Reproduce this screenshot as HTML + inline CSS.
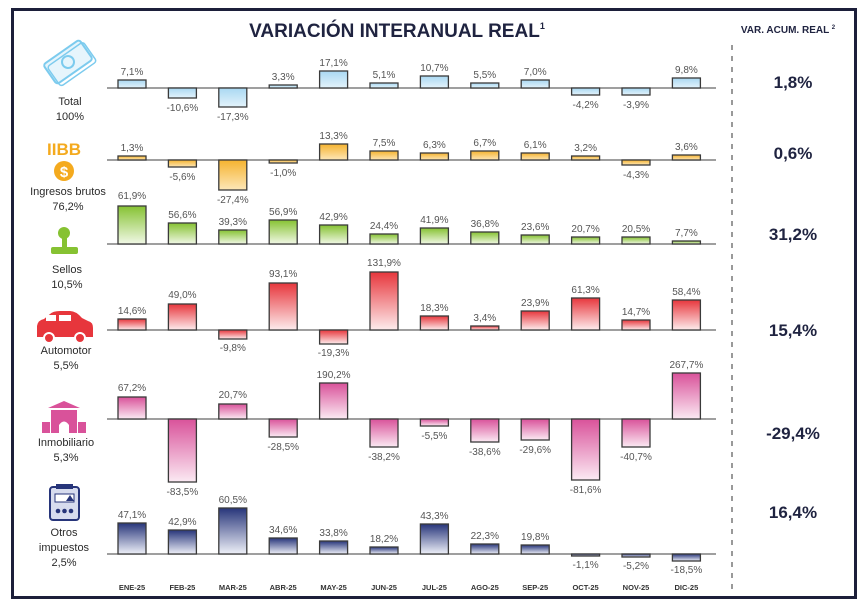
<!DOCTYPE html>
<html><head><meta charset="utf-8"><style>
body{margin:0;background:#fff;}
svg{display:block;font-family:"Liberation Sans",sans-serif;}
.l{font-size:10px;fill:#555;text-anchor:middle;}
.m{font-size:7.5px;font-weight:bold;fill:#333;text-anchor:middle;}
.n{font-size:11px;fill:#2a2a2a;text-anchor:middle;}
.v{font-size:17px;font-weight:bold;fill:#1f2340;text-anchor:middle;}
rect.b{stroke:#3a3a3a;stroke-width:1.3;}
</style></head><body>
<svg width="862" height="611" viewBox="0 0 862 611">
<defs>
<linearGradient id="g0" x1="0" y1="0" x2="0" y2="1"><stop offset="0" stop-color="#a9d8f2"/><stop offset="1" stop-color="#e4f3fb"/></linearGradient>
<linearGradient id="g1" x1="0" y1="0" x2="0" y2="1"><stop offset="0" stop-color="#f5b32f"/><stop offset="1" stop-color="#fde7b8"/></linearGradient>
<linearGradient id="g2" x1="0" y1="0" x2="0" y2="1"><stop offset="0" stop-color="#86c232"/><stop offset="1" stop-color="#f1f8e6"/></linearGradient>
<linearGradient id="g3" x1="0" y1="0" x2="0" y2="1"><stop offset="0" stop-color="#e7363c"/><stop offset="1" stop-color="#fdeced"/></linearGradient>
<linearGradient id="g4" x1="0" y1="0" x2="0" y2="1"><stop offset="0" stop-color="#d9529a"/><stop offset="1" stop-color="#fbeaf3"/></linearGradient>
<linearGradient id="g5" x1="0" y1="0" x2="0" y2="1"><stop offset="0" stop-color="#27357a"/><stop offset="1" stop-color="#eef0f8"/></linearGradient>
</defs>
<rect x="12.5" y="9.5" width="843" height="588" fill="#fff" stroke="#1c1f3a" stroke-width="3"/>
<text x="397" y="37" font-size="19" font-weight="bold" fill="#1f2340" text-anchor="middle">VARIACIÓN INTERANUAL REAL<tspan font-size="9" dy="-8">1</tspan></text>
<text x="788" y="33" font-size="10" font-weight="bold" fill="#1f2340" text-anchor="middle">VAR. ACUM. REAL <tspan font-size="6" dy="-4">2</tspan></text>
<line x1="732" y1="45" x2="732" y2="592" stroke="#333" stroke-width="1" stroke-dasharray="5,6"/>
<g stroke="#666" stroke-width="1.2">
<line x1="107" y1="88" x2="716" y2="88"/><line x1="107" y1="160" x2="716" y2="160"/><line x1="107" y1="244" x2="716" y2="244"/>
<line x1="107" y1="330" x2="716" y2="330"/><line x1="107" y1="419" x2="716" y2="419"/><line x1="107" y1="554" x2="716" y2="554"/>
</g>
<text class="v" x="793" y="88">1,8%</text>
<text class="v" x="793" y="159">0,6%</text>
<text class="v" x="793" y="240">31,2%</text>
<text class="v" x="793" y="336">15,4%</text>
<text class="v" x="793" y="439">-29,4%</text>
<text class="v" x="793" y="518">16,4%</text>
<!-- Total -->
<g fill="url(#g0)">
<rect class="b" x="118" y="80" width="28" height="8"/><rect class="b" x="168.4" y="88" width="28" height="10"/><rect class="b" x="218.8" y="88" width="28" height="19"/><rect class="b" x="269.2" y="85" width="28" height="3"/><rect class="b" x="319.6" y="71" width="28" height="17"/><rect class="b" x="370" y="83" width="28" height="5"/><rect class="b" x="420.4" y="76" width="28" height="12"/><rect class="b" x="470.8" y="83" width="28" height="5"/><rect class="b" x="521.2" y="80" width="28" height="8"/><rect class="b" x="571.6" y="88" width="28" height="7"/><rect class="b" x="622" y="88" width="28" height="7"/><rect class="b" x="672.4" y="78" width="28" height="10"/>
</g>
<text class="l" x="132" y="75">7,1%</text><text class="l" x="182.4" y="111">-10,6%</text><text class="l" x="232.8" y="120">-17,3%</text><text class="l" x="283.2" y="80">3,3%</text><text class="l" x="333.6" y="66">17,1%</text><text class="l" x="384" y="78">5,1%</text><text class="l" x="434.4" y="71">10,7%</text><text class="l" x="484.8" y="78">5,5%</text><text class="l" x="535.2" y="75">7,0%</text><text class="l" x="585.6" y="108">-4,2%</text><text class="l" x="636" y="108">-3,9%</text><text class="l" x="686.4" y="73">9,8%</text>
<!-- IIBB -->
<g fill="url(#g1)">
<rect class="b" x="118" y="156" width="28" height="4"/><rect class="b" x="168.4" y="160" width="28" height="7"/><rect class="b" x="218.8" y="160" width="28" height="30"/><rect class="b" x="269.2" y="160" width="28" height="3"/><rect class="b" x="319.6" y="144" width="28" height="16"/><rect class="b" x="370" y="151" width="28" height="9"/><rect class="b" x="420.4" y="153" width="28" height="7"/><rect class="b" x="470.8" y="151" width="28" height="9"/><rect class="b" x="521.2" y="153" width="28" height="7"/><rect class="b" x="571.6" y="156" width="28" height="4"/><rect class="b" x="622" y="160" width="28" height="5"/><rect class="b" x="672.4" y="155" width="28" height="5"/>
</g>
<text class="l" x="132" y="151">1,3%</text><text class="l" x="182.4" y="180">-5,6%</text><text class="l" x="232.8" y="203">-27,4%</text><text class="l" x="283.2" y="176">-1,0%</text><text class="l" x="333.6" y="139">13,3%</text><text class="l" x="384" y="146">7,5%</text><text class="l" x="434.4" y="148">6,3%</text><text class="l" x="484.8" y="146">6,7%</text><text class="l" x="535.2" y="148">6,1%</text><text class="l" x="585.6" y="151">3,2%</text><text class="l" x="636" y="178">-4,3%</text><text class="l" x="686.4" y="150">3,6%</text>
<!-- Sellos -->
<g fill="url(#g2)">
<rect class="b" x="118" y="206" width="28" height="38"/><rect class="b" x="168.4" y="223" width="28" height="21"/><rect class="b" x="218.8" y="230" width="28" height="14"/><rect class="b" x="269.2" y="220" width="28" height="24"/><rect class="b" x="319.6" y="225" width="28" height="19"/><rect class="b" x="370" y="234" width="28" height="10"/><rect class="b" x="420.4" y="228" width="28" height="16"/><rect class="b" x="470.8" y="232" width="28" height="12"/><rect class="b" x="521.2" y="235" width="28" height="9"/><rect class="b" x="571.6" y="237" width="28" height="7"/><rect class="b" x="622" y="237" width="28" height="7"/><rect class="b" x="672.4" y="241" width="28" height="3"/>
</g>
<text class="l" x="132" y="199">61,9%</text><text class="l" x="182.4" y="218">56,6%</text><text class="l" x="232.8" y="225">39,3%</text><text class="l" x="283.2" y="215">56,9%</text><text class="l" x="333.6" y="220">42,9%</text><text class="l" x="384" y="229">24,4%</text><text class="l" x="434.4" y="223">41,9%</text><text class="l" x="484.8" y="227">36,8%</text><text class="l" x="535.2" y="230">23,6%</text><text class="l" x="585.6" y="232">20,7%</text><text class="l" x="636" y="232">20,5%</text><text class="l" x="686.4" y="236">7,7%</text>
<!-- Automotor -->
<g fill="url(#g3)">
<rect class="b" x="118" y="319" width="28" height="11"/><rect class="b" x="168.4" y="304" width="28" height="26"/><rect class="b" x="218.8" y="330" width="28" height="9"/><rect class="b" x="269.2" y="283" width="28" height="47"/><rect class="b" x="319.6" y="330" width="28" height="14"/><rect class="b" x="370" y="272" width="28" height="58"/><rect class="b" x="420.4" y="316" width="28" height="14"/><rect class="b" x="470.8" y="326" width="28" height="4"/><rect class="b" x="521.2" y="311" width="28" height="19"/><rect class="b" x="571.6" y="298" width="28" height="32"/><rect class="b" x="622" y="320" width="28" height="10"/><rect class="b" x="672.4" y="300" width="28" height="30"/>
</g>
<text class="l" x="132" y="314">14,6%</text><text class="l" x="182.4" y="298">49,0%</text><text class="l" x="232.8" y="351">-9,8%</text><text class="l" x="283.2" y="277">93,1%</text><text class="l" x="333.6" y="356">-19,3%</text><text class="l" x="384" y="266">131,9%</text><text class="l" x="434.4" y="311">18,3%</text><text class="l" x="484.8" y="321">3,4%</text><text class="l" x="535.2" y="306">23,9%</text><text class="l" x="585.6" y="293">61,3%</text><text class="l" x="636" y="315">14,7%</text><text class="l" x="686.4" y="295">58,4%</text>
<!-- Inmobiliario -->
<g fill="url(#g4)">
<rect class="b" x="118" y="397" width="28" height="22"/><rect class="b" x="168.4" y="419" width="28" height="63"/><rect class="b" x="218.8" y="404" width="28" height="15"/><rect class="b" x="269.2" y="419" width="28" height="18"/><rect class="b" x="319.6" y="383" width="28" height="36"/><rect class="b" x="370" y="419" width="28" height="28"/><rect class="b" x="420.4" y="419" width="28" height="7"/><rect class="b" x="470.8" y="419" width="28" height="23"/><rect class="b" x="521.2" y="419" width="28" height="21"/><rect class="b" x="571.6" y="419" width="28" height="61"/><rect class="b" x="622" y="419" width="28" height="28"/><rect class="b" x="672.4" y="373" width="28" height="46"/>
</g>
<text class="l" x="132" y="391">67,2%</text><text class="l" x="182.4" y="495">-83,5%</text><text class="l" x="232.8" y="398">20,7%</text><text class="l" x="283.2" y="450">-28,5%</text><text class="l" x="333.6" y="378">190,2%</text><text class="l" x="384" y="460">-38,2%</text><text class="l" x="434.4" y="439">-5,5%</text><text class="l" x="484.8" y="455">-38,6%</text><text class="l" x="535.2" y="453">-29,6%</text><text class="l" x="585.6" y="493">-81,6%</text><text class="l" x="636" y="460">-40,7%</text><text class="l" x="686.4" y="368">267,7%</text>
<!-- Otros -->
<g fill="url(#g5)">
<rect class="b" x="118" y="523" width="28" height="31"/><rect class="b" x="168.4" y="530" width="28" height="24"/><rect class="b" x="218.8" y="508" width="28" height="46"/><rect class="b" x="269.2" y="538" width="28" height="16"/><rect class="b" x="319.6" y="541" width="28" height="13"/><rect class="b" x="370" y="547" width="28" height="7"/><rect class="b" x="420.4" y="524" width="28" height="30"/><rect class="b" x="470.8" y="544" width="28" height="10"/><rect class="b" x="521.2" y="545" width="28" height="9"/><rect class="b" x="571.6" y="554" width="28" height="2"/><rect class="b" x="622" y="554" width="28" height="3"/><rect class="b" x="672.4" y="554" width="28" height="7"/>
</g>
<text class="l" x="132" y="518">47,1%</text><text class="l" x="182.4" y="525">42,9%</text><text class="l" x="232.8" y="503">60,5%</text><text class="l" x="283.2" y="533">34,6%</text><text class="l" x="333.6" y="536">33,8%</text><text class="l" x="384" y="542">18,2%</text><text class="l" x="434.4" y="519">43,3%</text><text class="l" x="484.8" y="539">22,3%</text><text class="l" x="535.2" y="540">19,8%</text><text class="l" x="585.6" y="568">-1,1%</text><text class="l" x="636" y="569">-5,2%</text><text class="l" x="686.4" y="573">-18,5%</text>
<!-- months -->
<g class="m">
<text class="m" x="132" y="590">ENE-25</text><text class="m" x="182.4" y="590">FEB-25</text><text class="m" x="232.8" y="590">MAR-25</text><text class="m" x="283.2" y="590">ABR-25</text><text class="m" x="333.6" y="590">MAY-25</text><text class="m" x="384" y="590">JUN-25</text><text class="m" x="434.4" y="590">JUL-25</text><text class="m" x="484.8" y="590">AGO-25</text><text class="m" x="535.2" y="590">SEP-25</text><text class="m" x="585.6" y="590">OCT-25</text><text class="m" x="636" y="590">NOV-25</text><text class="m" x="686.4" y="590">DIC-25</text>
</g>
<!-- left icons & labels -->
<g transform="translate(68,62) rotate(-35)"><rect x="-22" y="-12" width="44" height="24" rx="3" fill="#e6f5fc" stroke="#7ccbee" stroke-width="2"/><rect x="-20" y="-8" width="44" height="24" rx="3" fill="none" stroke="#7ccbee" stroke-width="1.5"/><circle cx="0" cy="0" r="6" fill="none" stroke="#7ccbee" stroke-width="2"/></g>
<text class="n" x="70" y="105">Total</text><text class="n" x="70" y="120">100%</text>
<text x="64" y="155" font-size="17" font-weight="bold" fill="#f4aa1e" text-anchor="middle">IIBB</text>
<circle cx="64" cy="171" r="10" fill="#f4aa1e"/><text x="64" y="177" font-size="15" font-weight="bold" fill="#fff" text-anchor="middle">$</text>
<text class="n" x="68" y="195">Ingresos brutos</text><text class="n" x="68" y="210">76,2%</text>
<g fill="#86c232"><circle cx="64" cy="233" r="6"/><rect x="62" y="238" width="5" height="10"/><rect x="51" y="247" width="27" height="7" rx="2"/></g>
<text class="n" x="67" y="273">Sellos</text><text class="n" x="67" y="288">10,5%</text>
<path d="M37 337 L37 326 Q38 320 44 319 L50 314 Q53 311 60 311 L70 311 Q76 311 82 318 L88 321 Q93 322 93 328 L93 337 Z" fill="#e7363c"/>
<rect x="46" y="315" width="10" height="6" fill="#fff"/><rect x="59" y="315" width="12" height="6" fill="#fff"/>
<circle cx="49" cy="338" r="5" fill="#e7363c" stroke="#fff" stroke-width="2"/><circle cx="80" cy="338" r="5" fill="#e7363c" stroke="#fff" stroke-width="2"/>
<text class="n" x="66" y="354">Automotor</text><text class="n" x="66" y="369">5,5%</text>
<g fill="#d9529a"><path d="M48 408 L64 401 L80 408 Z"/><rect x="51" y="410" width="26" height="23"/><rect x="42" y="422" width="8" height="11"/><rect x="78" y="422" width="8" height="11"/></g>
<path d="M59 433 L59 425 Q64 418 69 425 L69 433 Z" fill="#fff"/>
<text class="n" x="66" y="446">Inmobiliario</text><text class="n" x="66" y="461">5,3%</text>
<rect x="50" y="487" width="29" height="33" rx="3" fill="#d7dcee" stroke="#27357a" stroke-width="2"/>
<rect x="56" y="484" width="17" height="5" fill="#27357a"/>
<rect x="55" y="494" width="19" height="8" fill="#fff" stroke="#27357a" stroke-width="1"/><path d="M66 501 L70 495 L74 501 Z" fill="#27357a"/>
<g fill="#27357a"><circle cx="58" cy="511" r="2.3"/><circle cx="64.5" cy="511" r="2.3"/><circle cx="71" cy="511" r="2.3"/></g>
<text class="n" x="64" y="536">Otros</text><text class="n" x="64" y="551">impuestos</text><text class="n" x="64" y="566">2,5%</text>
</svg>
</body></html>
